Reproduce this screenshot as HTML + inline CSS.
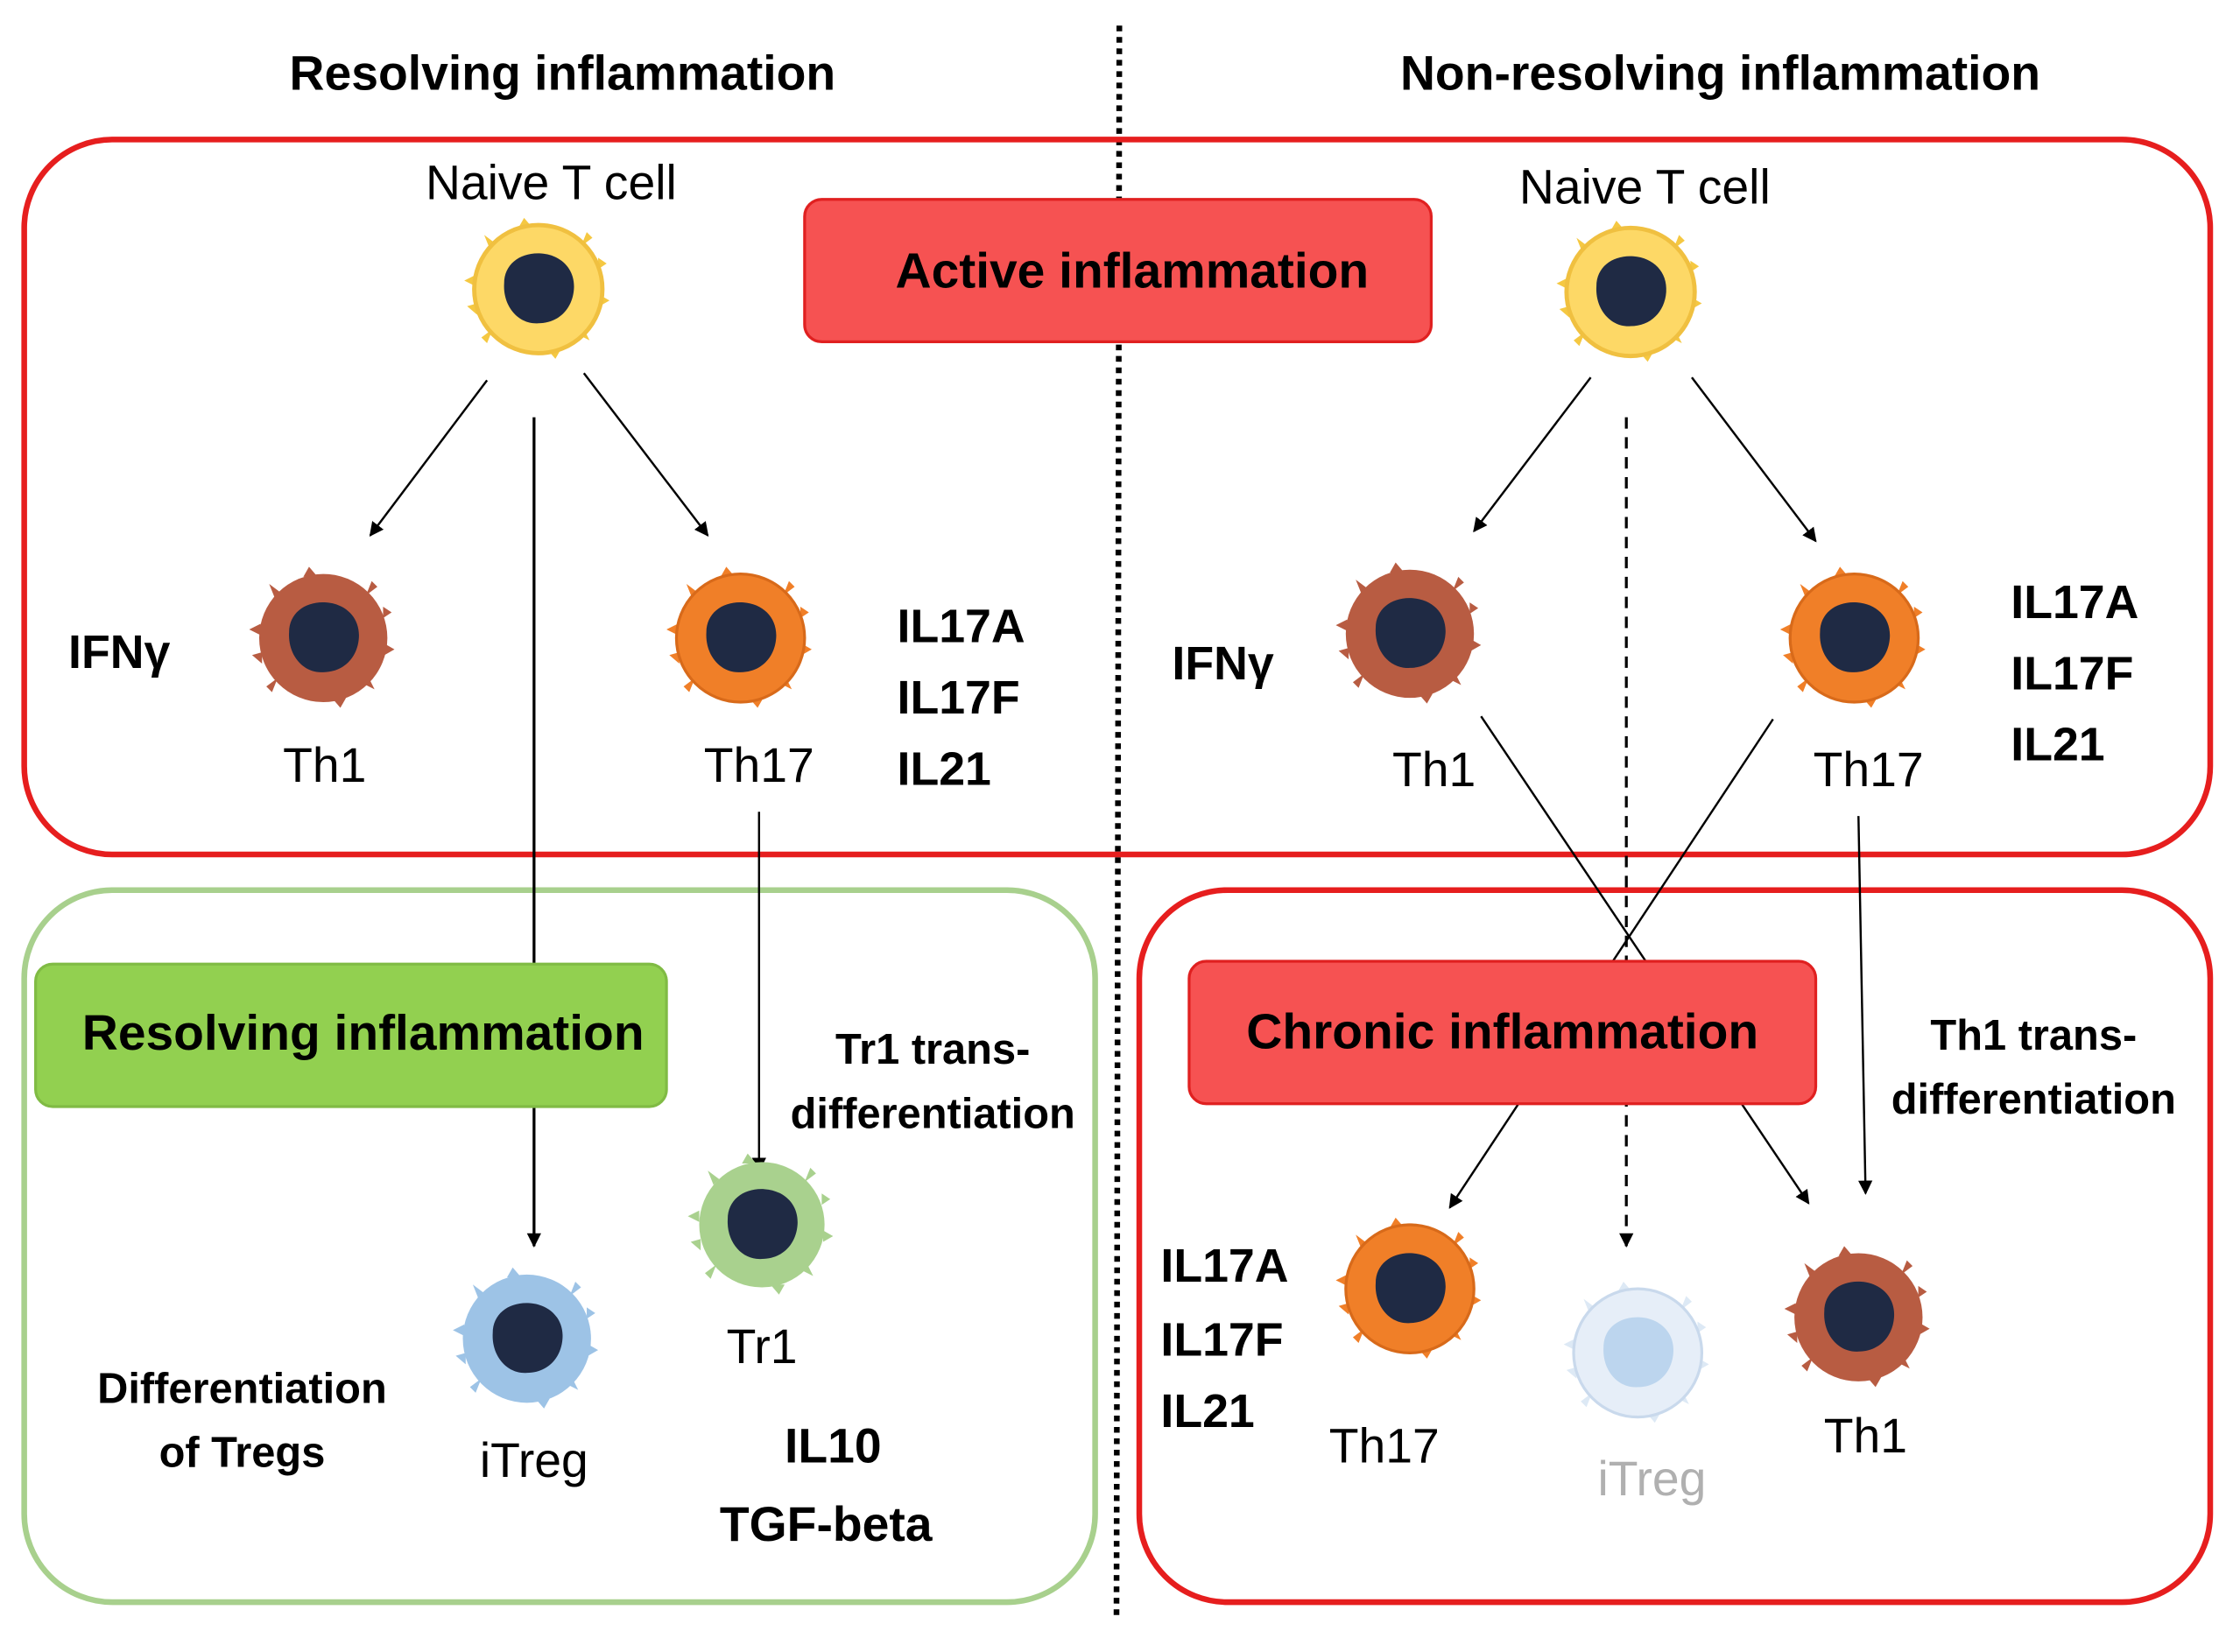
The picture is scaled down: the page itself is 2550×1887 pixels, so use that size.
<!DOCTYPE html>
<html><head><meta charset="utf-8"><style>
html,body{margin:0;padding:0;background:#fff;}
svg{display:block;}
text{font-family:"Liberation Sans","DejaVu Sans",sans-serif;}
.b{font-weight:bold;}
</style></head><body>
<svg width="2550" height="1887" viewBox="0 0 1568 1160" preserveAspectRatio="none" xmlns="http://www.w3.org/2000/svg">
<defs>
<marker id="ar" markerWidth="10" markerHeight="10" refX="9" refY="5" orient="auto" markerUnits="userSpaceOnUse">
<path d="M0,0 L10,5 L0,10 z" fill="#000"/></marker>
<g id="spk">
<path d="M-52,-6 L-44,-2 L-44,-10z M50,8 L43,4 L43,12z M-10,-50 L-4,-43 L-14,-43z M12,49 L6,42 L16,42z M-40,34 L-32,28 L-36,38z M38,-36 L30,-30 L34,-40z M-38,-38 L-30,-32 L-34,-28z M36,36 L28,32 L32,28z M-50,12 L-43,10 L-43,18z M48,-18 L42,-14 L42,-22z" />
</g>
<path id="nuc" d="M-24,-4 C-24,-18 -12,-26 2,-25 C16,-24 26,-14 25,0 C24,14 14,24 0,24 C-14,25 -25,12 -24,-4z"/>
</defs>
<rect width="1568" height="1160" fill="#fff"/>
<text x="395" y="63" font-size="34" class="b" text-anchor="middle">Resolving inflammation</text>
<text x="1208" y="63" font-size="34" class="b" text-anchor="middle">Non-resolving inflammation</text>
<line x1="786" y1="18" x2="784" y2="1136" stroke="#000" stroke-width="4" stroke-dasharray="4,4"/>

<rect x="17" y="98" width="1535" height="502" rx="62" fill="none" stroke="#e61e1e" stroke-width="4"/>
<rect x="17" y="625" width="752" height="500" rx="62" fill="none" stroke="#a8d08d" stroke-width="4"/>
<rect x="800" y="625" width="752" height="500" rx="62" fill="none" stroke="#e61e1e" stroke-width="4"/>

<line x1="342" y1="267" x2="260" y2="376" stroke="#000" stroke-width="1.5" marker-end="url(#ar)"/>
<line x1="410" y1="262" x2="497" y2="376" stroke="#000" stroke-width="1.5" marker-end="url(#ar)"/>
<line x1="375" y1="293" x2="375" y2="875" stroke="#000" stroke-width="2" marker-end="url(#ar)"/>
<line x1="533" y1="570" x2="533" y2="822" stroke="#000" stroke-width="1.5" marker-end="url(#ar)"/>

<line x1="1117" y1="265" x2="1035" y2="373" stroke="#000" stroke-width="1.5" marker-end="url(#ar)"/>
<line x1="1188" y1="265" x2="1275" y2="380" stroke="#000" stroke-width="1.5" marker-end="url(#ar)"/>
<line x1="1142" y1="293" x2="1142" y2="875" stroke="#000" stroke-width="2" stroke-dasharray="8,6" marker-end="url(#ar)"/>
<line x1="1040" y1="503" x2="1270" y2="845" stroke="#000" stroke-width="1.5" marker-end="url(#ar)"/>
<line x1="1245" y1="505" x2="1018" y2="848" stroke="#000" stroke-width="1.5" marker-end="url(#ar)"/>
<line x1="1305" y1="573" x2="1310" y2="838" stroke="#000" stroke-width="1.5" marker-end="url(#ar)"/>

<rect x="565" y="140" width="440" height="100" rx="12" fill="#f65252" stroke="#e02020" stroke-width="2"/>
<text x="795" y="202" font-size="35" class="b" text-anchor="middle">Active inflammation</text>
<rect x="25" y="677" width="443" height="100" rx="12" fill="#92d050" stroke="#80bb44" stroke-width="2"/>
<text x="255" y="737" font-size="35" class="b" text-anchor="middle">Resolving inflammation</text>
<rect x="835" y="675" width="440" height="100" rx="12" fill="#f65252" stroke="#e02020" stroke-width="2"/>
<text x="1055" y="736" font-size="35" class="b" text-anchor="middle">Chronic inflammation</text>

<g transform="translate(378,203)"><g fill="#f5c842"><use href="#spk"/></g><circle r="45" fill="#fdd866" stroke="#f0c040" stroke-width="3"/><use href="#nuc" fill="#1f2a44"/></g>
<g transform="translate(1145,205)"><g fill="#f5c842"><use href="#spk"/></g><circle r="45" fill="#fdd866" stroke="#f0c040" stroke-width="3"/><use href="#nuc" fill="#1f2a44"/></g>
<g transform="translate(227,448)"><g fill="#b85c42"><use href="#spk"/></g><circle r="45" fill="#b85c42"/><use href="#nuc" fill="#1f2a44"/></g>
<g transform="translate(520,448)"><g fill="#f07f28"><use href="#spk"/></g><circle r="45" fill="#f07f28" stroke="#d86a1a" stroke-width="2"/><use href="#nuc" fill="#1f2a44"/></g>
<g transform="translate(990,445)"><g fill="#b85c42"><use href="#spk"/></g><circle r="45" fill="#b85c42"/><use href="#nuc" fill="#1f2a44"/></g>
<g transform="translate(1302,448)"><g fill="#f07f28"><use href="#spk"/></g><circle r="45" fill="#f07f28" stroke="#d86a1a" stroke-width="2"/><use href="#nuc" fill="#1f2a44"/></g>
<g transform="translate(535,860)"><g fill="#a9d18e"><use href="#spk"/></g><circle r="44" fill="#a9d18e"/><use href="#nuc" fill="#1f2a44"/></g>
<g transform="translate(370,940)"><g fill="#9dc3e6"><use href="#spk"/></g><circle r="45" fill="#9dc3e6"/><use href="#nuc" fill="#1f2a44"/></g>
<g transform="translate(990,905)"><g fill="#f07f28"><use href="#spk"/></g><circle r="45" fill="#f07f28" stroke="#d86a1a" stroke-width="2"/><use href="#nuc" fill="#1f2a44"/></g>
<g transform="translate(1150,950)"><g fill="#dde9f5"><use href="#spk"/></g><circle r="45" fill="#e6eef8" stroke="#c9d9ec" stroke-width="2"/><use href="#nuc" fill="#bcd5ee"/></g>
<g transform="translate(1305,925)"><g fill="#b85c42"><use href="#spk"/></g><circle r="45" fill="#b85c42"/><use href="#nuc" fill="#1f2a44"/></g>

<g font-size="34" text-anchor="middle">
<text x="387" y="140">Naive T cell</text>
<text x="1155" y="143">Naive T cell</text>
<text x="228" y="549">Th1</text>
<text x="533" y="549">Th17</text>
<text x="1007" y="552">Th1</text>
<text x="1312" y="552">Th17</text>
<text x="535" y="957">Tr1</text>
<text x="375" y="1037">iTreg</text>
<text x="972" y="1027">Th17</text>
<text x="1160" y="1050" fill="#b0b0b0">iTreg</text>
<text x="1310" y="1020">Th1</text>
</g>
<g font-size="33" class="b">
<text x="48" y="469">IFNγ</text>
<text x="630" y="451">IL17A</text>
<text x="630" y="501">IL17F</text>
<text x="630" y="551">IL21</text>
<text x="823" y="477">IFNγ</text>
<text x="1412" y="434">IL17A</text>
<text x="1412" y="484">IL17F</text>
<text x="1412" y="534">IL21</text>
<text x="815" y="900">IL17A</text>
<text x="815" y="952">IL17F</text>
<text x="815" y="1002">IL21</text>
</g>
<g font-size="30" class="b" text-anchor="middle">
<text x="655" y="747">Tr1 trans-</text>
<text x="655" y="792">differentiation</text>
<text x="1428" y="737">Th1 trans-</text>
<text x="1428" y="782">differentiation</text>
<text x="170" y="985">Differentiation</text>
<text x="170" y="1030">of Tregs</text>
</g>
<g font-size="34" class="b" text-anchor="middle">
<text x="585" y="1027">IL10</text>
<text x="580" y="1082">TGF-beta</text>
</g>
</svg>
</body></html>
